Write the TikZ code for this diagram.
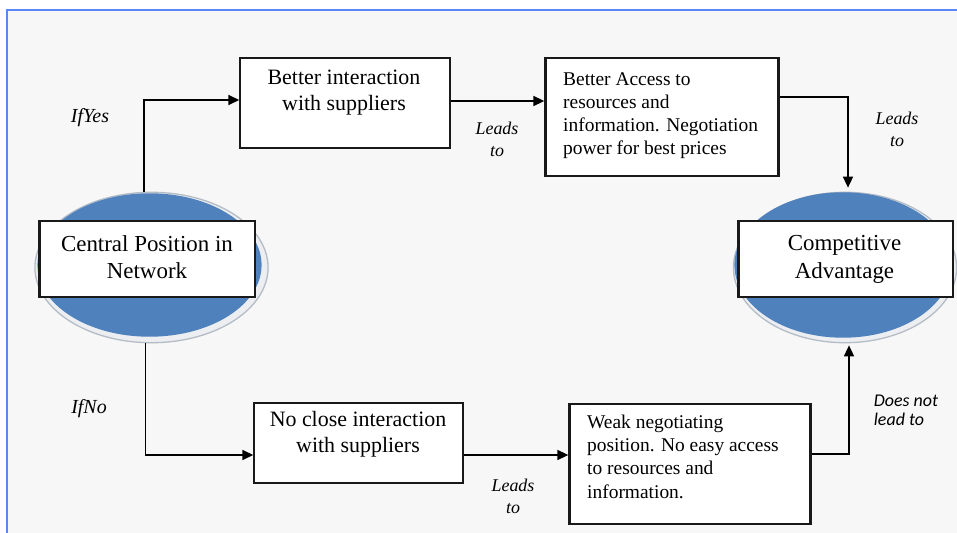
\documentclass[tikz,border=0pt]{standalone}
\usepackage{fontspec}
\setmainfont{Liberation Serif}
\newfontfamily\serifx{Liberation Serif}
\newfontfamily\calib{Carlito}
\usetikzlibrary{arrows.meta,shapes.geometric,calc}
\definecolor{bgg}{HTML}{F7F7F7}
\definecolor{frameblue}{HTML}{5C86F5}
\definecolor{ellblue}{HTML}{4F81BD}
\definecolor{rimgrey}{HTML}{B4BCC6}
\definecolor{rimfill}{HTML}{ECEEF1}
\begin{document}
\begin{tikzpicture}[x=1bp,y=-1bp,
 box/.style={draw=black!90, line width=2.2bp, fill=white, rectangle, inner sep=0pt},
 conn/.style={draw=black, line width=1.6bp, -{Triangle[length=11bp,width=10bp]}},
 rim/.style={ellipse, draw=rimgrey, line width=1.3bp, fill=rimfill, inner sep=0pt},
 blob/.style={ellipse, fill=ellblue, inner sep=0pt},
 lbl/.style={font=\serifx\fontsize{18}{22}\selectfont\itshape, align=center, inner sep=0pt},
 bigtxt/.style={font=\serifx\fontsize{23}{27.5}\selectfont, align=center, inner sep=0pt},
 midtxt/.style={font=\serifx\fontsize{22}{26}\selectfont, align=center, inner sep=0pt},
 smtxt/.style={font=\serifx\fontsize{19.5}{23.2}\selectfont, align=left, inner sep=0pt},
]
\useasboundingbox (0,0) rectangle (957,533);
\fill[white] (0,0) rectangle (957,533);
\fill[bgg] (7,10) rectangle (957,533);
\draw[frameblue, line width=1.5bp] (7,533) -- (7,10) -- (957,10);

% central position
\node[rim, minimum width=234, minimum height=151] (cenR) at (151.5,267.5) {};
\node[blob, minimum width=225, minimum height=144] (cenE) at (149.5,265) {};
\node[box, minimum width=216, minimum height=76] (cenB) at (147,259) {};
\node[bigtxt, anchor=north] (cenT) at (147,235) {Central Position in\\Network};

% competitive advantage
\node[rim, minimum width=224, minimum height=151] (compR) at (845,267.5) {};
\node[blob, minimum width=218, minimum height=146] (compE) at (843,265) {};
\node[box, minimum width=215, minimum height=76] (compB) at (845.5,259) {};
\node[bigtxt, anchor=north, font=\serifx\fontsize{23}{28}\selectfont] (compT) at (844.5,235) {Competitive\\Advantage};

% boxes
\node[box, minimum width=210, minimum height=90] (b1) at (345,103) {};
\node[midtxt, anchor=north] (b1t) at (344,70) {Better interaction\\with suppliers};

\node[box, minimum width=234, minimum height=118] (b2) at (662,117) {};
\node[smtxt, anchor=north west] (b2t) at (563,72) {Better Access to\\resources and\\information. Negotiation\\power for best prices};

\node[box, minimum width=209, minimum height=80] (b4) at (358.5,443) {};
\node[midtxt, anchor=north] (b4t) at (358,411) {No close interaction\\with suppliers};

\node[box, minimum width=242, minimum height=120] (b5) at (690,464) {};
\node[smtxt, anchor=north west] (b5t) at (587,415) {Weak negotiating\\position. No easy access\\to resources and\\information.};

% labels
\node[lbl, font=\serifx\fontsize{20}{24}\selectfont\itshape] (ify) at (90,118) {IfYes};
\node[lbl, font=\serifx\fontsize{20}{24}\selectfont\itshape] (ifn) at (89,409) {IfNo};
\node[lbl] (l1) at (497,139) {Leads\\to};
\node[lbl] (l2) at (897,129) {Leads\\to};
\node[lbl] (l3) at (513,496) {Leads\\to};
\node[lbl, font=\calib\fontsize{18}{19}\selectfont\itshape, align=left] (l4) at (906,410) {Does not\\lead to};

% connectors
\draw[conn] ($(cenR.north)+(-7.5,0)$) |- ($(b1.west)+(0,-3)$);
\draw[conn] ($(b1.east)+(0,-2)$) -- ($(b1.east -| b2.west)+(0,-2)$);
\draw[conn, shorten >=4bp] ($(b2.east)+(0,-20)$) -| ($(compR.north)+(3,0)$);
\draw[conn] ($(cenR.south)+(-6,0)$) |- ($(b4.west)+(0,12)$);
\draw[conn] ($(b4.east)+(0,12)$) -- ($(b4.east -| b5.west)+(0,12)$);
\draw[conn, shorten >=2bp] ($(b5.east)+(0,-10)$) -| ($(compR.south)+(4,0)$);
\end{tikzpicture}
\end{document}
